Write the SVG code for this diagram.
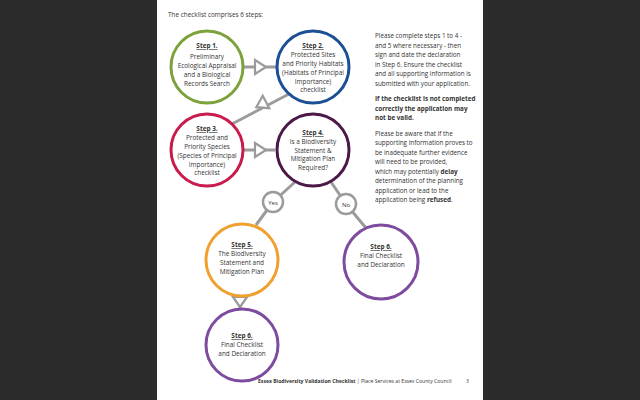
<svg xmlns="http://www.w3.org/2000/svg" width="640" height="400" viewBox="0 0 640 400">
<style>
.t{font-family:"Open Sans","Liberation Sans",sans-serif;font-size:6.4px;fill:#333;text-anchor:middle}
.h{font-weight:bold;text-decoration:underline}
.r{font-family:"Open Sans","Liberation Sans",sans-serif;font-size:6.3px;fill:#333}
.b{font-weight:bold}
.c{fill:#fff;stroke-width:3}
.ln{stroke:#9b9b9b;stroke-width:3;fill:none}
.ar{fill:#fff;stroke:#9b9b9b;stroke-width:2.2;stroke-linejoin:miter}
.yn{fill:#fff;stroke:#9b9b9b;stroke-width:2.5}
</style>
<rect width="640" height="400" fill="#2b2b2b"/>
<rect x="157" y="0" width="326" height="400" fill="#fff"/>
<text class="r" x="168" y="17" style="font-size:6.4px">The checklist comprises 6 steps:</text>

<g id="connectors">
<line class="ln" x1="243" y1="67" x2="276" y2="67"/>
<polygon class="ar" points="255,60 255,74 266,67"/>
<line class="ln" x1="289" y1="94" x2="232" y2="124"/>
<polygon class="ar" points="0,-7 0,7 11,0" transform="translate(266,102) rotate(152)"/>
<line class="ln" x1="244" y1="150" x2="275" y2="150"/>
<polygon class="ar" points="255,143 255,157 266,150"/>
<line class="ln" x1="295" y1="182" x2="273" y2="202"/>
<line class="ln" x1="273" y1="202" x2="256" y2="225"/>
<line class="ln" x1="331" y1="182" x2="346" y2="204"/>
<line class="ln" x1="346" y1="204" x2="366" y2="228"/>
<line class="ln" x1="240" y1="297" x2="240" y2="309"/>
<polygon class="ar" points="233,297 247,297 240,307"/>
</g>

<g id="step1">
<circle class="c" cx="207" cy="67" r="36" stroke="#7da23c"/>
<text class="t h" x="207" y="48">Step 1.</text>
<text class="t" x="207" y="59">Preliminary</text>
<text class="t" x="207" y="68">Ecological Appraisal</text>
<text class="t" x="207" y="77">and a Biological</text>
<text class="t" x="207" y="86">Records Search</text>
</g>
<g id="step2">
<circle class="c" cx="313" cy="67" r="36" stroke="#1d4f94"/>
<text class="t h" x="313" y="48">Step 2.</text>
<text class="t" x="313" y="57">Protected Sites</text>
<text class="t" x="313" y="66">and Priority Habitats</text>
<text class="t" x="313" y="75">(Habitats of Principal</text>
<text class="t" x="313" y="84">Importance)</text>
<text class="t" x="313" y="92">checklist</text>
</g>
<g id="step3">
<circle class="c" cx="207" cy="150" r="36" stroke="#c91b4c"/>
<text class="t h" x="207" y="131">Step 3.</text>
<text class="t" x="207" y="140">Protected and</text>
<text class="t" x="207" y="149">Priority Species</text>
<text class="t" x="207" y="158">(Species of Principal</text>
<text class="t" x="207" y="167">Importance)</text>
<text class="t" x="207" y="175">checklist</text>
</g>
<g id="step4">
<circle class="c" cx="313" cy="150" r="36" stroke="#4b1848"/>
<text class="t h" x="313" y="135">Step 4.</text>
<text class="t" x="313" y="144">Is a Biodiversity</text>
<text class="t" x="313" y="153">Statement &amp;</text>
<text class="t" x="313" y="161">Mitigation Plan</text>
<text class="t" x="313" y="170">Required?</text>
</g>
<g id="yes">
<circle class="yn" cx="273" cy="202" r="10"/>
<text class="t" x="273" y="204.5" style="font-size:6px">Yes</text>
</g>
<g id="no">
<circle class="yn" cx="346" cy="204" r="10"/>
<text class="t" x="346" y="206.5" style="font-size:6px">No</text>
</g>
<g id="step5">
<circle class="c" cx="242" cy="260" r="36" stroke="#f0a02e"/>
<text class="t h" x="242" y="247">Step 5.</text>
<text class="t" x="242" y="256">The Biodiversity</text>
<text class="t" x="242" y="265">Statement and</text>
<text class="t" x="242" y="274">Mitigation Plan</text>
</g>
<g id="step6a">
<circle class="c" cx="381" cy="262" r="37" stroke="#7d4c9e"/>
<text class="t h" x="381" y="249">Step 6.</text>
<text class="t" x="381" y="258">Final Checklist</text>
<text class="t" x="381" y="267">and Declaration</text>
</g>
<g id="step6b">
<circle class="c" cx="242" cy="345" r="36" stroke="#7d4c9e"/>
<text class="t h" x="242" y="338">Step 6.</text>
<text class="t" x="242" y="347">Final Checklist</text>
<text class="t" x="242" y="356">and Declaration</text>
</g>

<g id="notes">
<text class="r" x="375" y="38">Please complete steps 1 to 4 -</text>
<text class="r" x="375" y="47.5">and 5 where necessary - then</text>
<text class="r" x="375" y="57">sign and date the declaration</text>
<text class="r" x="375" y="66.5">in Step 6. Ensure the checklist</text>
<text class="r" x="375" y="76">and all supporting information is</text>
<text class="r" x="375" y="85.5">submitted with your application.</text>
<text class="r b" x="375" y="101">If the checklist is not completed</text>
<text class="r b" x="375" y="110.5">correctly the application may</text>
<text class="r b" x="375" y="120">not be valid.</text>
<text class="r" x="375" y="135.5">Please be aware that if the</text>
<text class="r" x="375" y="145">supporting information proves to</text>
<text class="r" x="375" y="154.5">be inadequate further evidence</text>
<text class="r" x="375" y="164">will need to be provided,</text>
<text class="r" x="375" y="173.5">which may potentially <tspan class="b">delay</tspan></text>
<text class="r" x="375" y="183">determination of the planning</text>
<text class="r" x="375" y="192.5">application or lead to the</text>
<text class="r" x="375" y="202">application being <tspan class="b">refused</tspan>.</text>
</g>
<text class="r" x="258" y="383" style="font-size:5.1px"><tspan class="b">Essex Biodiversity Validation Checklist</tspan>  |  Place Services at Essex County Council</text>
<text class="r" x="466" y="383" style="font-size:5.1px">3</text>
</svg>
